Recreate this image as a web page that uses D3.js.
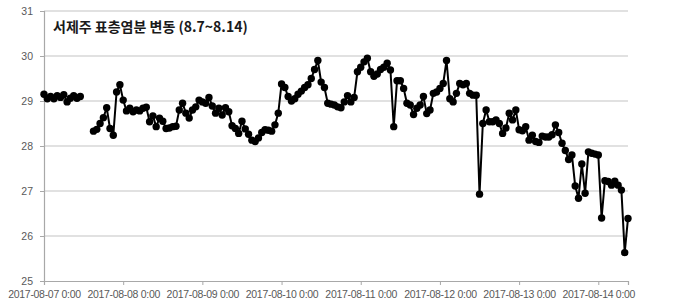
<!DOCTYPE html>
<html>
	<head>
		<meta charset="utf-8">
		<title>서제주 표층염분 변동</title>
    <style>
      body{
        margin:0;
        background:#fff;
      }
      svg text{
        font-family:"Liberation Sans", Arial, sans-serif;
      }
    </style>
	</head>
	<body>
    <script src="https://cdn.jsdelivr.net/npm/d3@7"></script>
    <script>
      // data: hourly salinity from 2017-08-07 0:00 (null = no data)
      var startTime = '2017-08-07 00:00';
      var endTime = '2017-08-14 09:00';
      var title = '서제주 표층염분 변동 (8.7~8.14)';
      var yTicks = [25, 26, 27, 28, 29, 30, 31];
      var salinity = [
        29.15, 29.05, 29.1, 29.05, 29.12, 29.08, 29.14, 28.98, 29.06, 29.12, 29.06, 29.1,
        null, null, null,
        28.33, 28.37, 28.5, 28.63, 28.85, 28.39, 28.24, 29.2, 29.36,
        29.02, 28.78, 28.84, 28.76, 28.8, 28.78, 28.84, 28.86, 28.54, 28.67, 28.43, 28.62,
        28.55, 28.39, 28.4, 28.43, 28.44, 28.8, 28.95, 28.73, 28.62, 28.8, 28.87, 29.02,
        28.98, 28.95, 29.08, 28.89, 28.73, 28.84, 28.69, 28.85, 28.76, 28.45, 28.39, 28.28,
        28.55, 28.38, 28.26, 28.13, 28.1, 28.18, 28.3, 28.36, 28.35, 28.33, 28.47, 28.73,
        29.38, 29.3, 29.1, 29.0, 29.05, 29.15, 29.22, 29.3, 29.36, 29.5, 29.7, 29.9,
        29.42, 29.3, 28.95, 28.93, 28.91, 28.87, 28.85, 28.98, 29.12, 28.98, 29.08, 29.65,
        29.75, 29.87, 29.95, 29.65, 29.55, 29.6, 29.7, 29.75, 29.84, 29.69, 28.43, 29.45,
        29.45, 29.28, 28.95, 28.91, 28.7, 28.84, 28.91, 29.1, 28.72, 28.8, 29.17, 29.2,
        29.28, 29.39, 29.9, 29.05, 28.98, 29.17, 29.39, 29.36, 29.39, 29.17, 29.13, 29.13,
        26.93, 28.5, 28.8, 28.54, 28.54, 28.58, 28.5, 28.28, 28.4, 28.73, 28.58, 28.8,
        28.36, 28.34, 28.43, 28.13, 28.24, 28.1, 28.08, 28.22, 28.2, 28.2, 28.25, 28.47,
        28.3, 28.06, 27.9, 27.7, 27.8, 27.11, 26.84, 27.6, 26.95, 27.87, 27.84, 27.82,
        27.8, 26.4, 27.23, 27.21, 27.13, 27.22, 27.13, 27.02, 25.63, 26.39
      ];

      var W = 673, H = 306;
      // plot area (window.top is read-only, so no "top" here)
      var pLeft = 44, pRight = 628, pTop = 11, pBottom = 281;

      var parse = d3.timeParse('%Y-%m-%d %H:%M');
      var t0 = parse(startTime);
      var data = salinity.map(function(v, i){
        return {t: d3.timeHour.offset(t0, i), v: v};
      });

      var svg = d3.select('body').append('svg')
        .attr('width', W).attr('height', H);

      var x = d3.scaleTime()
        .domain([t0, parse(endTime)])
        .range([pLeft, pRight]);
      var y = d3.scaleLinear()
        .domain([25, 31])
        .range([pBottom, pTop]);

      // horizontal grid
      svg.append('g')
        .selectAll('line')
        .data(yTicks.slice(1))
        .enter().append('line')
        .attr('x1', pLeft).attr('x2', pRight)
        .attr('y1', function(d){ return y(d); })
        .attr('y2', function(d){ return y(d); })
        .style('stroke', '#c4c4c4').style('stroke-width', 1.2);

      // y axis
      var yAxis = svg.append('g')
        .attr('transform', 'translate(' + pLeft + ',0)')
        .call(d3.axisLeft(y).tickValues(yTicks).tickFormat(d3.format('d'))
          .tickSize(4).tickPadding(7));
      // x axis
      var xAxis = svg.append('g')
        .attr('transform', 'translate(0,' + pBottom + ')')
        .call(d3.axisBottom(x).ticks(d3.timeDay.every(1))
          .tickFormat(d3.timeFormat('%Y-%m-%d %-H:%M'))
          .tickSize(4).tickPadding(6));

      [yAxis, xAxis].forEach(function(g){
        g.select('.domain').style('stroke', '#a8a8a8').style('stroke-width', 1.2);
        g.selectAll('.tick line').style('stroke', '#a8a8a8');
        g.selectAll('.tick text')
          .style('font-size', '10.5px')
          .style('fill', '#595959');
      });
      xAxis.selectAll('.tick text').style('letter-spacing', '-0.3px');

      // line + markers
      var line = d3.line()
        .defined(function(d){ return d.v != null; })
        .x(function(d){ return x(d.t); })
        .y(function(d){ return y(d.v); });

      svg.append('path')
        .datum(data)
        .attr('d', line)
        .style('fill', 'none')
        .style('stroke', '#000')
        .style('stroke-width', 2);

      svg.append('g')
        .selectAll('circle')
        .data(data.filter(function(d){ return d.v != null; }))
        .enter().append('circle')
        .attr('cx', function(d){ return x(d.t); })
        .attr('cy', function(d){ return y(d.v); })
        .attr('r', 3.7)
        .style('fill', '#000');

      // title
      svg.append('text')
        .attr('x', 53).attr('y', 32)
        .text(title)
        .style('font-family', '"Noto Sans CJK KR", sans-serif')
        .style('font-weight', 'bold')
        .style('font-size', '14px')
        .style('fill', '#1a1a1a');
    </script>
	</body>
</html>
